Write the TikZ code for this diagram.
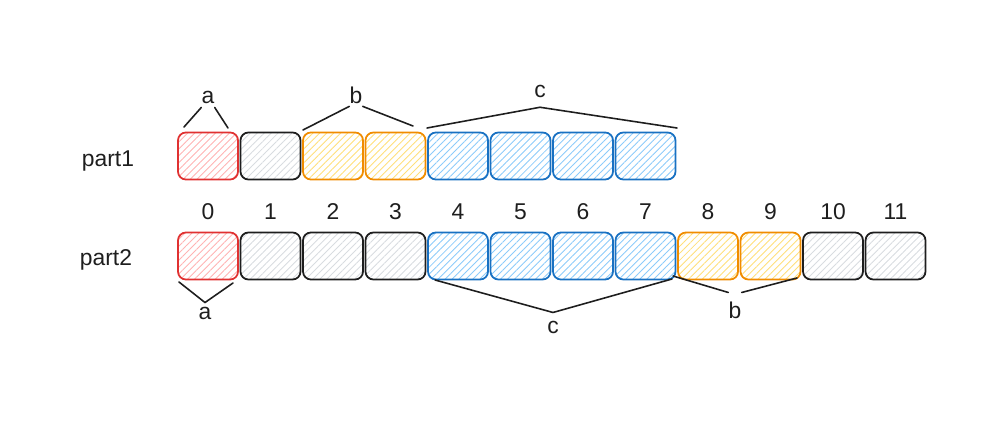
\documentclass[tikz,border=0pt]{standalone}
\usepackage{fontspec}
\setmainfont{Liberation Sans}
\usetikzlibrary{patterns.meta}

\definecolor{redLine}{HTML}{E03131}
\definecolor{redFill}{HTML}{FFB3B3}
\definecolor{grayLine}{HTML}{1E1E1E}
\definecolor{grayFill}{HTML}{D8DCE0}
\definecolor{yellowLine}{HTML}{F08C00}
\definecolor{yellowFill}{HTML}{FFDF7A}
\definecolor{blueLine}{HTML}{1971C2}
\definecolor{blueFill}{HTML}{8CCBFA}

\tikzset{
  cell/.style={draw, line width=1pt, rounded corners=4.5pt, inner sep=0pt,
    minimum width=1.2cm, minimum height=0.94cm},
  hatch/.style={pattern={Lines[angle=45,distance=2.8pt,line width=0.5pt]}, pattern color=#1},
  redcell/.style={cell, draw=redLine, hatch=redFill},
  graycell/.style={cell, draw=grayLine, hatch=grayFill},
  yellowcell/.style={cell, draw=yellowLine, hatch=yellowFill},
  bluecell/.style={cell, draw=blueLine, hatch=blueFill},
  lbl/.style={font=\fontsize{13}{15}\selectfont, text=grayLine, inner sep=4pt},
  grouplbl/.style={lbl, inner xsep=0pt, inner ysep=#1},
  brace/.style={draw=grayLine, line width=0.9pt, line cap=round}
}

\begin{document}
\begin{tikzpicture}[x=0.02cm, y=-0.02cm]
    \useasboundingbox (0,0) rectangle (986,432);

    % row labels
    \node[lbl] (part1) at (108,161) {part1};
    \node[lbl] (part2) at (106,260) {part2};

    % first row
    \foreach \c [count=\i from 0] in {redcell,graycell,yellowcell,yellowcell,bluecell,bluecell,bluecell,bluecell}
      \node[\c] (pa\i) at ({208+62.5*\i},156) {};

    % second row with indices
    \foreach \c [count=\i from 0] in {redcell,graycell,graycell,graycell,bluecell,bluecell,bluecell,bluecell,yellowcell,yellowcell,graycell,graycell} {
      \node[\c] (pb\i) at ({208+62.5*\i},256) {};
      \node[lbl] (num\i) at ({208+62.5*\i},212) {\i};
    }

    % groups over part1
    \node[grouplbl=2.2pt] (a1) at (208,97) {a};
    \node[grouplbl=1.5pt] (b1) at (356,95) {b};
    \node[grouplbl=5.5pt] (c1) at (540,91) {c};
    \coordinate (a1l) at (184,127);
    \coordinate (a1r) at (228,128);
    \coordinate (b1l) at (303,130);
    \coordinate (b1r) at (413,126);
    \coordinate (c1l) at (427,128);
    \coordinate (c1r) at (677,128);
    \draw[brace] (a1.south west) -- (a1l);
    \draw[brace] (a1.south east) -- (a1r);
    \draw[brace] (b1.south west) -- (b1l);
    \draw[brace] (b1.south east) -- (b1r);
    \draw[brace] (c1.south) -- (c1l);
    \draw[brace] (c1.south) -- (c1r);

    % groups under part2
    \node[grouplbl=2.2pt] (a2) at (205,313) {a};
    \node[grouplbl=4.5pt] (c2) at (553,327) {c};
    \node[grouplbl=5pt] (b2) at (735,310) {b};
    \coordinate (a2l) at (179,282);
    \coordinate (a2r) at (233,283);
    \coordinate (c2l) at (435,280);
    \coordinate (c2r) at (672,279);
    \coordinate (b2l) at (673,276);
    \coordinate (b2r) at (797,278);
    \draw[brace] (a2.north) -- (a2l);
    \draw[brace] (a2.north) -- (a2r);
    \draw[brace] (c2.north) -- (c2l);
    \draw[brace] (c2.north) -- (c2r);
    \draw[brace] (b2.north west) -- (b2l);
    \draw[brace] (b2.north east) -- (b2r);
\end{tikzpicture}
\end{document}
